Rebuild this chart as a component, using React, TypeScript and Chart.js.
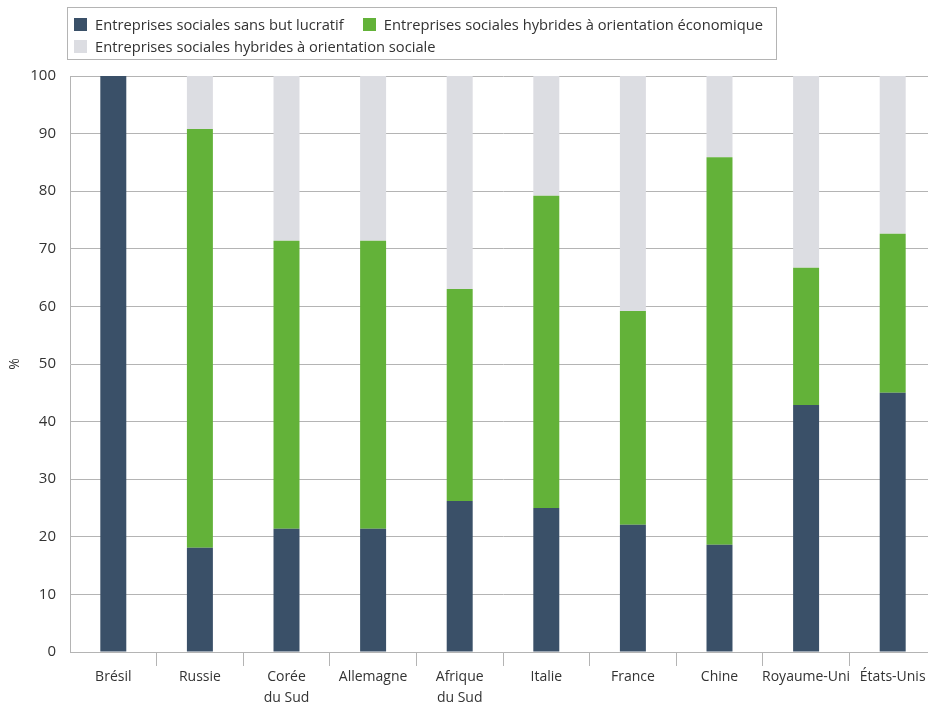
import React, { useEffect, useRef } from "react";
import { Chart, registerables } from "chart.js";

Chart.register(...registerables);

const categories: (string | string[])[] = [
  "Brésil",
  "Russie",
  ["Corée", "du Sud"],
  "Allemagne",
  ["Afrique", "du Sud"],
  "Italie",
  "France",
  "Chine",
  "Royaume-Uni",
  "États-Unis",
];

const seriesNames = [
  "Entreprises sociales sans but lucratif",
  "Entreprises sociales hybrides à orientation économique",
  "Entreprises sociales hybrides à orientation sociale",
];

const nonProfit = [100, 18.1, 21.4, 21.4, 26.2, 25.0, 22.1, 18.6, 42.9, 45.0];
const hybridEconomic = [0, 72.7, 50.0, 50.0, 36.8, 54.2, 37.1, 67.3, 23.8, 27.6];
const hybridSocial = [0, 9.2, 28.6, 28.6, 37.0, 20.8, 40.8, 14.1, 33.3, 27.4];

const yTicks = [0, 10, 20, 30, 40, 50, 60, 70, 80, 90, 100];

const colors = ["#3a5068", "#63b239", "#dcdde2"];

const FONT = "'Open Sans', 'Noto Sans', sans-serif";

export default function App() {
  const ref = useRef<HTMLCanvasElement | null>(null);

  useEffect(() => {
    if (!ref.current) return;
    const chart = new Chart(ref.current, {
      type: "bar",
      data: {
        labels: categories,
        datasets: [nonProfit, hybridEconomic, hybridSocial].map((d, i) => ({
          label: seriesNames[i],
          data: d,
          backgroundColor: colors[i],
          borderWidth: 0,
          barPercentage: 0.3,
          categoryPercentage: 1,
        })),
      },
      options: {
        animation: false,
        responsive: false,
        maintainAspectRatio: false,
        layout: { padding: { top: 76, left: 0, right: 0, bottom: 0 } },
        plugins: {
          legend: { display: false },
          tooltip: { enabled: false },
        },
        scales: {
          x: {
            stacked: true,
            afterFit: (s: any) => {
              s.height = 50;
            },
            grid: {
              offset: true,
              drawOnChartArea: false,
              drawTicks: true,
              tickLength: 14,
              color: (ctx: any) => (ctx.index === 0 ? "rgba(0,0,0,0)" : "#b4b4b4"),
            },
            border: { display: true, color: "#b4b4b4", width: 1 },
            ticks: {
              color: "#333",
              font: { family: FONT, size: 14, lineHeight: 1.5 },
              padding: 1,
              maxRotation: 0,
              autoSkip: false,
            },
          },
          y: {
            stacked: true,
            min: 0,
            max: 100,
            afterFit: (s: any) => {
              s.width = 70;
            },
            afterBuildTicks: (s: any) => {
              s.ticks = yTicks.map((v) => ({ value: v }));
            },
            grid: {
              color: "#b4b4b4",
              drawTicks: false,
              tickLength: 0,
            },
            border: { display: true, color: "#b4b4b4", width: 1 },
            ticks: {
              color: "#333",
              font: { family: FONT, size: 15 },
              padding: 14,
            },
            title: {
              display: true,
              text: "%",
              color: "#333",
              font: { family: FONT, size: 14 },
              padding: { top: 7, bottom: 0 },
            },
          },
        },
      },
    });
    return () => chart.destroy();
  }, []);

  const legendItem = (i: number) => (
    <span style={{ display: "inline-flex", alignItems: "center", marginRight: 19 }}>
      <span
        style={{
          display: "inline-block",
          width: 13,
          height: 13,
          background: colors[i],
          marginRight: 8,
        }}
      />
      <span>{seriesNames[i]}</span>
    </span>
  );

  return (
    <div
      style={{
        position: "fixed",
        left: 0,
        top: 0,
        width: 928,
        height: 702,
        overflow: "hidden",
        background: "#fff",
      }}
    >
      <canvas ref={ref} width={936} height={702} style={{ display: "block", width: 936, height: 702 }} />
      <div
        style={{
          position: "absolute",
          left: 67,
          top: 7,
          width: 710,
          height: 53,
          boxSizing: "border-box",
          border: "1px solid #b4b4b4",
          padding: "5px 0 0 6px",
          fontFamily: FONT,
          fontSize: 14.7,
          color: "#333",
          lineHeight: "22px",
        }}
      >
        <div style={{ whiteSpace: "nowrap", height: 22, display: "flex", alignItems: "center" }}>
          {legendItem(0)}
          {legendItem(1)}
        </div>
        <div style={{ whiteSpace: "nowrap", height: 22, display: "flex", alignItems: "center" }}>
          {legendItem(2)}
        </div>
      </div>
    </div>
  );
}
